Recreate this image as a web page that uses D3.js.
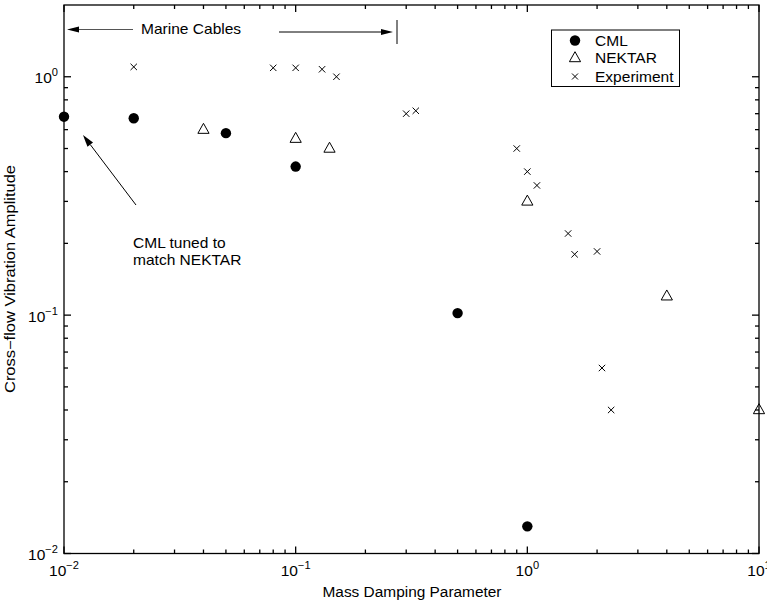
<!DOCTYPE html>
<html>
<head>
<meta charset="utf-8">
<script src="https://cdn.jsdelivr.net/npm/d3@7"></script>
<style>
  body { margin: 0; background: #fff; }
  svg { display: block; font-family: "Liberation Sans", Arial, Helvetica, sans-serif; }
</style>
</head>
<body>
<svg id="chart" width="767" height="604"></svg>
<script>
// Mass damping parameter vs cross-flow vibration amplitude
const cmlX = [0.01, 0.02, 0.05, 0.1, 0.5, 1.0];
const cmlY = [0.68, 0.67, 0.58, 0.42, 0.102, 0.013];

const nektarX = [0.04, 0.1, 0.14, 1.0, 4.0, 10.0];
const nektarY = [0.60, 0.55, 0.50, 0.30, 0.12, 0.04];

const expX = [0.02, 0.08, 0.1, 0.13, 0.15, 0.30, 0.33, 0.9, 1.0, 1.1, 1.5, 1.6, 2.0, 2.1, 2.3];
const expY = [1.1, 1.09, 1.09, 1.075, 1.0, 0.70, 0.72, 0.50, 0.40, 0.35, 0.22, 0.18, 0.185, 0.06, 0.04];

const xMajor = [0.01, 0.1, 1, 10];
const xMajorExp = ["\u22122", "\u22121", "0", "1"];
const yMajor = [0.01, 0.1, 1];
const yMajorExp = ["\u22122", "\u22121", "0"];

const legendNames = ["CML", "NEKTAR", "Experiment"];

const svg = d3.select("#chart");
const pLeft = 64, pRight = 759, pTop = 5, pBottom = 553.5;

const x = d3.scaleLog().domain([0.01, 10]).range([pLeft, pRight]);
const y = d3.scaleLog().domain([0.01, 2]).range([pBottom, pTop]);

// text in a slightly wide sans face
const SX = 1.11;
function label(g, tx, ty, str, opts = {}) {
  const t = g.append("text")
    .attr("transform", `translate(${tx},${ty}) scale(${SX},1)`)
    .attr("font-size", opts.size || 14)
    .attr("text-anchor", opts.anchor || "start");
  if (str != null) t.text(str);
  return t;
}

// minor ticks (2..9 within each decade)
function minors(lo, hi) {
  const out = [];
  for (let e = Math.floor(Math.log10(lo)); e < Math.ceil(Math.log10(hi)); e++) {
    for (let k = 2; k <= 9; k++) {
      const v = k * Math.pow(10, e);
      if (v > lo && v < hi) out.push(v);
    }
  }
  return out;
}
const xMinor = minors(0.01, 10);
const yMinor = minors(0.01, 2);

const axes = svg.append("g").attr("stroke", "#000").attr("stroke-width", 1.3);

// frame
axes.append("rect")
  .attr("x", pLeft).attr("y", pTop)
  .attr("width", pRight - pLeft).attr("height", pBottom - pTop)
  .attr("fill", "none");

const majorLen = 7, minorLen = 4;
// x ticks, bottom and top, pointing inward
xMajor.forEach(v => {
  axes.append("line").attr("x1", x(v)).attr("x2", x(v)).attr("y1", pBottom).attr("y2", pBottom - majorLen);
  axes.append("line").attr("x1", x(v)).attr("x2", x(v)).attr("y1", pTop).attr("y2", pTop + majorLen);
});
xMinor.forEach(v => {
  axes.append("line").attr("x1", x(v)).attr("x2", x(v)).attr("y1", pBottom).attr("y2", pBottom - minorLen);
  axes.append("line").attr("x1", x(v)).attr("x2", x(v)).attr("y1", pTop).attr("y2", pTop + minorLen);
});
// y ticks, left and right
yMajor.forEach(v => {
  axes.append("line").attr("y1", y(v)).attr("y2", y(v)).attr("x1", pLeft).attr("x2", pLeft + majorLen);
  axes.append("line").attr("y1", y(v)).attr("y2", y(v)).attr("x1", pRight).attr("x2", pRight - majorLen);
});
yMinor.forEach(v => {
  axes.append("line").attr("y1", y(v)).attr("y2", y(v)).attr("x1", pLeft).attr("x2", pLeft + minorLen);
  axes.append("line").attr("y1", y(v)).attr("y2", y(v)).attr("x1", pRight).attr("x2", pRight - minorLen);
});

// tick labels with superscript exponents
const lbl = svg.append("g").attr("fill", "#000");
xMajor.forEach((v, i) => {
  const t = label(lbl, x(v), pBottom + 22.5, null, { anchor: "middle" });
  t.append("tspan").text("10");
  t.append("tspan").attr("font-size", 10).attr("dy", -7).text(xMajorExp[i]);
});
yMajor.forEach((v, i) => {
  const t = label(lbl, pLeft - 6, y(v) + 6.5, null, { anchor: "end" });
  t.append("tspan").text("10");
  t.append("tspan").attr("font-size", 10).attr("dy", -7).text(yMajorExp[i]);
});

// axis titles
svg.append("text").attr("x", 412).attr("y", 597)
  .attr("text-anchor", "middle").attr("font-size", 14)
  .attr("textLength", 179).attr("lengthAdjust", "spacingAndGlyphs")
  .text("Mass Damping Parameter");
svg.append("text").attr("transform", `translate(15,279) rotate(-90)`)
  .attr("text-anchor", "middle").attr("font-size", 14)
  .attr("textLength", 228).attr("lengthAdjust", "spacingAndGlyphs")
  .text("Cross\u2212flow Vibration Amplitude");

// markers
const triPath = "M0,-6.3L5.6,3.7L-5.6,3.7Z";
function cross(g, cx, cy, s) {
  g.append("path")
    .attr("d", `M${cx - s},${cy - s}L${cx + s},${cy + s}M${cx - s},${cy + s}L${cx + s},${cy - s}`)
    .attr("stroke", "#000").attr("stroke-width", 1).attr("fill", "none");
}

const marks = svg.append("g");
cmlX.forEach((v, i) => {
  marks.append("circle").attr("cx", x(v)).attr("cy", y(cmlY[i])).attr("r", 5.2).attr("fill", "#000");
});
nektarX.forEach((v, i) => {
  marks.append("path").attr("transform", `translate(${x(v)},${y(nektarY[i])})`)
    .attr("d", triPath).attr("fill", "none").attr("stroke", "#000").attr("stroke-width", 1);
});
expX.forEach((v, i) => {
  cross(marks, x(v), y(expY[i]), 3.2);
});

// legend
const lg = svg.append("g");
lg.append("rect").attr("x", 551.5).attr("y", 30).attr("width", 128).attr("height", 56.5)
  .attr("fill", "#fff").attr("stroke", "#000").attr("stroke-width", 1);
const rowY = [40.5, 58, 76.5];
lg.append("circle").attr("cx", 575).attr("cy", rowY[0]).attr("r", 5.2).attr("fill", "#000");
lg.append("path").attr("transform", `translate(575,${rowY[1]})`).attr("d", triPath)
  .attr("fill", "none").attr("stroke", "#000");
cross(lg, 575, rowY[2], 3);
legendNames.forEach((n, i) => {
  label(lg, 595, rowY[i] + 5, n);
});

// "Marine Cables" range annotation
const ann = svg.append("g");
ann.append("line").attr("x1", 74).attr("x2", 133).attr("y1", 29.5).attr("y2", 29.5)
  .attr("stroke", "#555").attr("stroke-width", 1);
ann.append("path").attr("d", "M67,29.5L79,26.5L79,32.5Z").attr("fill", "#000");
label(ann, 141, 34, "Marine Cables");
ann.append("line").attr("x1", 279).attr("x2", 386).attr("y1", 32).attr("y2", 32)
  .attr("stroke", "#000").attr("stroke-width", 1);
ann.append("path").attr("d", "M393,32L381,29L381,35Z").attr("fill", "#000");
ann.append("line").attr("x1", 397).attr("x2", 397).attr("y1", 20).attr("y2", 44)
  .attr("stroke", "#000").attr("stroke-width", 1);

// arrow pointing to the tuned CML point
const ax0 = 136, ay0 = 205, ax1 = 83, ay1 = 135;
const ang = Math.atan2(ay1 - ay0, ax1 - ax0);
const hl = 12, hw = 3.5;
const bx = ax1 - hl * Math.cos(ang), by = ay1 - hl * Math.sin(ang);
ann.append("line").attr("x1", ax0).attr("y1", ay0).attr("x2", bx).attr("y2", by)
  .attr("stroke", "#000").attr("stroke-width", 1);
ann.append("path")
  .attr("d", `M${ax1},${ay1}L${bx + hw * Math.sin(ang)},${by - hw * Math.cos(ang)}L${bx - hw * Math.sin(ang)},${by + hw * Math.cos(ang)}Z`)
  .attr("fill", "#000");
label(ann, 133, 248, "CML tuned to");
label(ann, 133, 265, "match NEKTAR");
</script>
</body>
</html>
